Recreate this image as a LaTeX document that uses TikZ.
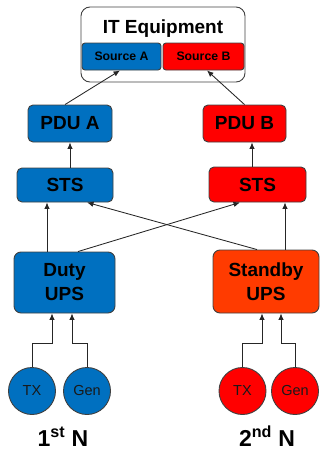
\documentclass[tikz,border=0pt]{standalone}
\usepackage{fontspec}
\setmainfont{Liberation Sans}
\usetikzlibrary{arrows.meta}
\definecolor{ablue}{HTML}{0070C0}
\definecolor{bred}{HTML}{FF0000}
\definecolor{upsred}{HTML}{FF3B00}
\definecolor{edge}{HTML}{404040}
\definecolor{wire}{HTML}{262626}

\begin{document}
\begin{tikzpicture}[x=1pt,y=-1pt,
  box/.style={draw=edge, line width=0.9pt, rounded corners=5pt, inner sep=0pt, align=center, text=black,
    font=\bfseries\fontsize{19}{24}\selectfont},
  src/.style={draw=edge, line width=0.9pt, rounded corners=3pt, inner sep=0pt,
    font=\bfseries\fontsize{12.3}{14}\selectfont, minimum height=27},
  feed/.style={circle, draw=edge, line width=0.9pt, minimum size=47, inner sep=0pt,
    font=\fontsize{14.5}{16}\selectfont, text=black!90},
  flow/.style={draw=wire, line width=0.85pt, -{Latex[length=6.5pt,width=5.5pt]}},
  tag/.style={font=\bfseries\fontsize{23}{26}\selectfont, anchor=base}
]
\useasboundingbox (0,0) rectangle (321,450);

% IT equipment with its two power inlets
\node[box, rounded corners=9pt, minimum width=164, minimum height=75] (it) at (163,44.5) {};
\node[font=\bfseries\fontsize{19}{22}\selectfont, anchor=base] (itlbl) at (163,33.5) {IT Equipment};
\node[src, fill=ablue, minimum width=79] (srcA) at (121.5,56.5) {Source A};
\node[src, fill=bred, minimum width=81] (srcB) at (203.5,56.5) {Source B};

% distribution
\node[box, fill=ablue, minimum width=84, minimum height=37] (pduA) at (70,123.5) {PDU A};
\node[box, fill=bred, minimum width=83, minimum height=37] (pduB) at (244.5,123.5) {PDU B};
\node[box, fill=ablue, minimum width=96, minimum height=34] (stsA) at (65,185) {STS};
\node[box, fill=bred, minimum width=97, minimum height=35] (stsB) at (257.5,184.5) {STS};

% UPS units
\node[box, fill=ablue, rounded corners=7pt, minimum width=101, minimum height=61] (duty) at (64.5,282.5) {Duty\\UPS};
\node[box, fill=upsred, rounded corners=7pt, minimum width=106, minimum height=63] (standby) at (266,281.5) {Standby\\UPS};

% incoming supplies
\node[feed, fill=ablue] (txA) at (32,391) {TX};
\node[feed, fill=ablue] (genA) at (87,391) {Gen};
\node[feed, fill=bred] (txB) at (242.5,391) {TX};
\node[feed, fill=bred] (genB) at (295,391) {Gen};

\node[tag] (nA) at (63,446.5) {1\textsuperscript{st} N};
\node[tag] (nB) at (267,446.5) {2\textsuperscript{nd} N};

% connectors
\coordinate (bus) at (0,343);
\draw[flow] ([xshift=-5]pduA.north) -- ([xshift=-1.5]srcA.south);
\draw[flow] (pduB.north) -- ([xshift=3.5]srcB.south);
\draw[flow] (stsA.north -| pduA.south) -- (pduA.south);
\draw[flow] ([xshift=-5.5]stsB.north) -- ([xshift=-5.5]stsB.north |- pduB.south);
\draw[flow] ([xshift=-17.5]duty.north) -- ([xshift=-17.5]duty.north |- stsA.south);
\draw[flow] ([xshift=19]standby.north) -- ([xshift=19]standby.north |- stsB.south);
\draw[flow] ([xshift=13.5]duty.north) -- ([xshift=-17.5]stsB.south);
\draw[flow] ([xshift=-9]standby.north) -- ([xshift=22]stsA.south);

\draw[flow] (txA.north) |- ([xshift=-12.5]duty.south |- bus) -- ([xshift=-12.5]duty.south);
\draw[flow] (genA.north) |- ([xshift=7.5]duty.south |- bus) -- ([xshift=7.5]duty.south);
\draw[flow] (txB.north) |- ([xshift=-4]standby.south |- bus) -- ([xshift=-4]standby.south);
\draw[flow] (genB.north) |- ([xshift=15]standby.south |- bus) -- ([xshift=15]standby.south);
\end{tikzpicture}
\end{document}
